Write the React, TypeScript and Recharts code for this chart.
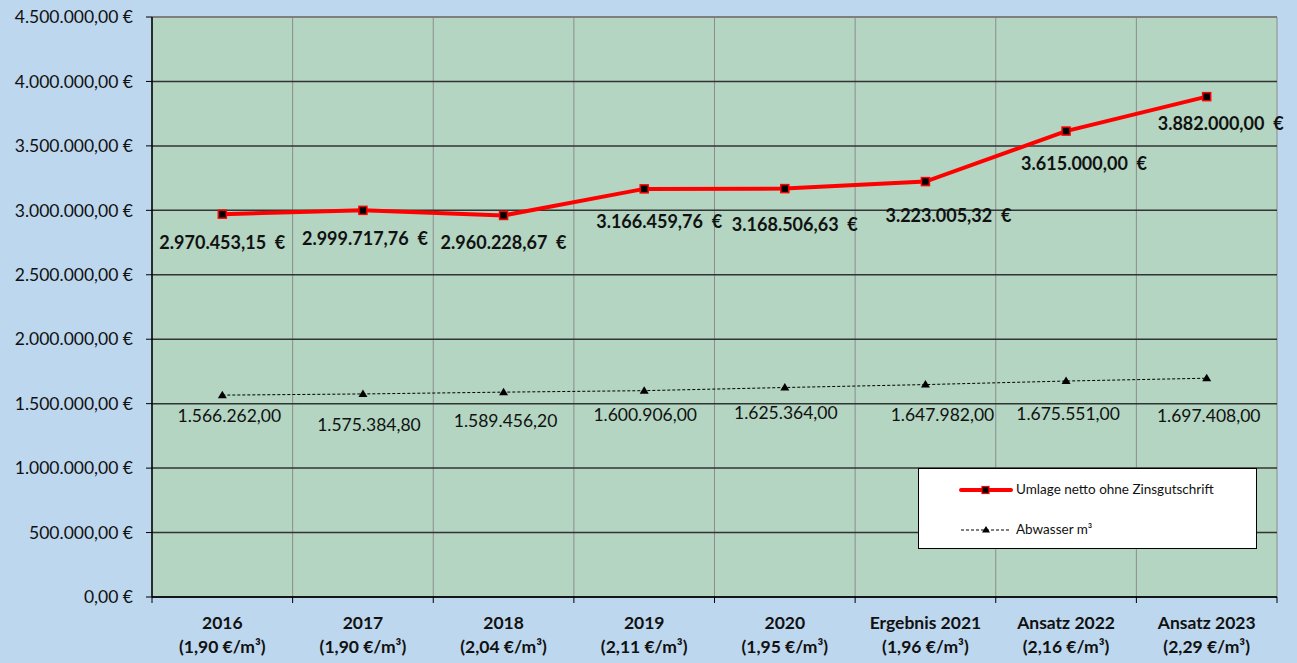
import React from 'react';
import { LineChart, Line, XAxis, YAxis, CartesianGrid, ReferenceLine } from 'recharts';

const years = ['2016', '2017', '2018', '2019', '2020', 'Ergebnis 2021', 'Ansatz 2022', 'Ansatz 2023'];
const rates = ['(1,90 €/m³)', '(1,90 €/m³)', '(2,04 €/m³)', '(2,11 €/m³)', '(1,95 €/m³)', '(1,96 €/m³)', '(2,16 €/m³)', '(2,29 €/m³)'];
const umlage = [2970453.15, 2999717.76, 2960228.67, 3166459.76, 3168506.63, 3223005.32, 3615000.0, 3882000.0];
const abwasser = [1566262.0, 1575384.8, 1589456.2, 1600906.0, 1625364.0, 1647982.0, 1675551.0, 1697408.0];
const yTicks = [0, 500000, 1000000, 1500000, 2000000, 2500000, 3000000, 3500000, 4000000, 4500000];

// layout tweaks for label placement (dx, dy relative to the point)
const umlageLabelShift = [[0, 28], [2, 28], [0, 27], [15, 32], [10, 35], [23, 33], [18, 32], [14, 26]];
const abwasserLabelShift = [[7, 20], [6, 31], [2, 28], [1, 24], [1, 25], [17, 30], [2, 32], [2, 37]];

const data = years.map((y, i) => ({ name: y, rate: rates[i], umlage: umlage[i], abwasser: abwasser[i] }));

const W = 1297;
const H = 663;
const PLOT_LEFT = 152;
const PLOT_RIGHT = 1277;
const PLOT_TOP = 17;
const PLOT_BOTTOM = 597;
const BAND = (PLOT_RIGHT - PLOT_LEFT) / years.length;
const FONT = 'Lato, "Open Sans", sans-serif';

function fmt(v: number): string {
  const [i, d] = v.toFixed(2).split('.');
  const g = i.replace(/\B(?=(\d{3})+(?!\d))/g, '.');
  return g + ',' + d;
}

const RedDot = (p: any) => {
  const { cx, cy } = p;
  if (cx == null || cy == null) return null;
  return <rect x={cx - 4} y={cy - 4} width={8} height={8} fill="#000" stroke="#ff0000" strokeWidth={1.5} />;
};

const TriDot = (p: any) => {
  const { cx, cy } = p;
  if (cx == null || cy == null) return null;
  return <polygon points={`${cx},${cy - 4.5} ${cx + 4.5},${cy + 3} ${cx - 4.5},${cy + 3}`} fill="#000" />;
};

const RedLabel = (p: any) => {
  const { x, y, index, value } = p;
  const [dx, dy] = umlageLabelShift[index];
  return (
    <text x={x + dx} y={y + dy} textAnchor="middle" dominantBaseline="central" fontFamily={FONT} fontSize={18} fontWeight={700} fill="#111" style={{ whiteSpace: 'pre' }}>
      {fmt(value) + '  €'}
    </text>
  );
};

const BlackLabel = (p: any) => {
  const { x, y, index, value } = p;
  const [dx, dy] = abwasserLabelShift[index];
  return (
    <text x={x + dx} y={y + dy} textAnchor="middle" dominantBaseline="central" fontFamily={FONT} fontSize={17.5} fill="#111">
      {fmt(value)}
    </text>
  );
};

const XTick = (p: any) => {
  const { x, payload, index } = p;
  const left = x - BAND / 2;
  return (
    <g>
      <line x1={left} y1={PLOT_BOTTOM} x2={left} y2={PLOT_BOTTOM + 6} stroke="#000" strokeWidth={1} />
      {index === years.length - 1 && (
        <line x1={x + BAND / 2} y1={PLOT_BOTTOM} x2={x + BAND / 2} y2={PLOT_BOTTOM + 6} stroke="#000" strokeWidth={1} />
      )}
      <text x={x} y={PLOT_BOTTOM + 25} textAnchor="middle" dominantBaseline="central" fontFamily={FONT} fontSize={17.5} fontWeight={700} fill="#111">
        {payload.value}
      </text>
      <text x={x} y={PLOT_BOTTOM + 49} textAnchor="middle" dominantBaseline="central" fontFamily={FONT} fontSize={17.5} fontWeight={700} fill="#111" style={{ whiteSpace: 'pre' }}>
        {rates[index]}
      </text>
    </g>
  );
};

const LegendBox = () => (
  <div style={{ position: 'absolute', left: 918, top: 468, width: 337, height: 79, background: '#fff', border: '1px solid #000', fontFamily: FONT, fontSize: 13.5, color: '#111' }}>
    <svg width={60} height={79} style={{ position: 'absolute', left: 38, top: 0 }}>
      <line x1={4} y1={21} x2={54} y2={21} stroke="#ff0000" strokeWidth={4} strokeLinecap="round" />
      <rect x={25} y={17.5} width={7} height={7} fill="#000" stroke="#ff0000" strokeWidth={1.2} />
      <line x1={4} y1={61} x2={54} y2={61} stroke="#000" strokeWidth={1} strokeDasharray="3 2" />
      <polygon points="29,57 33,63.5 25,63.5" fill="#000" />
    </svg>
    <div style={{ position: 'absolute', left: 97, top: 12, whiteSpace: 'nowrap' }}>Umlage netto ohne Zinsgutschrift</div>
    <div style={{ position: 'absolute', left: 97, top: 52, whiteSpace: 'nowrap' }}>Abwasser m³</div>
  </div>
);

export default function App() {
  return (
    <div style={{ position: 'fixed', left: 0, top: 0, width: W, height: H, background: '#bdd7ee' }}>
      <LineChart
        width={W}
        height={H}
        data={data}
        margin={{ top: PLOT_TOP, right: W - PLOT_RIGHT, bottom: 6, left: 0 }}
      >
        <CartesianGrid
          horizontal={false}
          vertical
          stroke="#8c8c8c"
          fill="#b3d5c1"
          fillOpacity={1}
          verticalCoordinatesGenerator={({ offset }: any) =>
            Array.from({ length: years.length + 1 }, (_, i) => offset.left + (i * offset.width) / years.length)
          }
        />
        <CartesianGrid horizontal vertical={false} stroke="#333" strokeWidth={1.5} />
        <ReferenceLine y={4500000} stroke="#7f7f7f" strokeWidth={2} />
        <XAxis
          dataKey="name"
          scale="band"
          height={60}
          axisLine={{ stroke: '#000', strokeWidth: 1.5 }}
          tickLine={false}
          tick={<XTick />}
          interval={0}
        />
        <YAxis
          width={PLOT_LEFT}
          domain={[0, 4500000]}
          ticks={yTicks}
          interval={0}
          axisLine={{ stroke: '#000', strokeWidth: 1.5 }}
          tickLine={{ stroke: '#000' }}
          tickSize={6}
          tickMargin={13}
          tick={{ fontFamily: FONT, fontSize: 17.5, fill: '#111' }}
          tickFormatter={(v: number) => fmt(v) + ' €'}
        />
        <Line
          dataKey="abwasser"
          name="Abwasser m³"
          stroke="#000"
          strokeWidth={1}
          strokeDasharray="3 2"
          dot={<TriDot />}
          activeDot={false}
          isAnimationActive={false}
          label={<BlackLabel />}
        />
        <Line
          dataKey="umlage"
          name="Umlage netto ohne Zinsgutschrift"
          stroke="#ff0000"
          strokeWidth={4}
          dot={<RedDot />}
          activeDot={false}
          isAnimationActive={false}
          label={<RedLabel />}
        />
      </LineChart>
      <LegendBox />
    </div>
  );
}
